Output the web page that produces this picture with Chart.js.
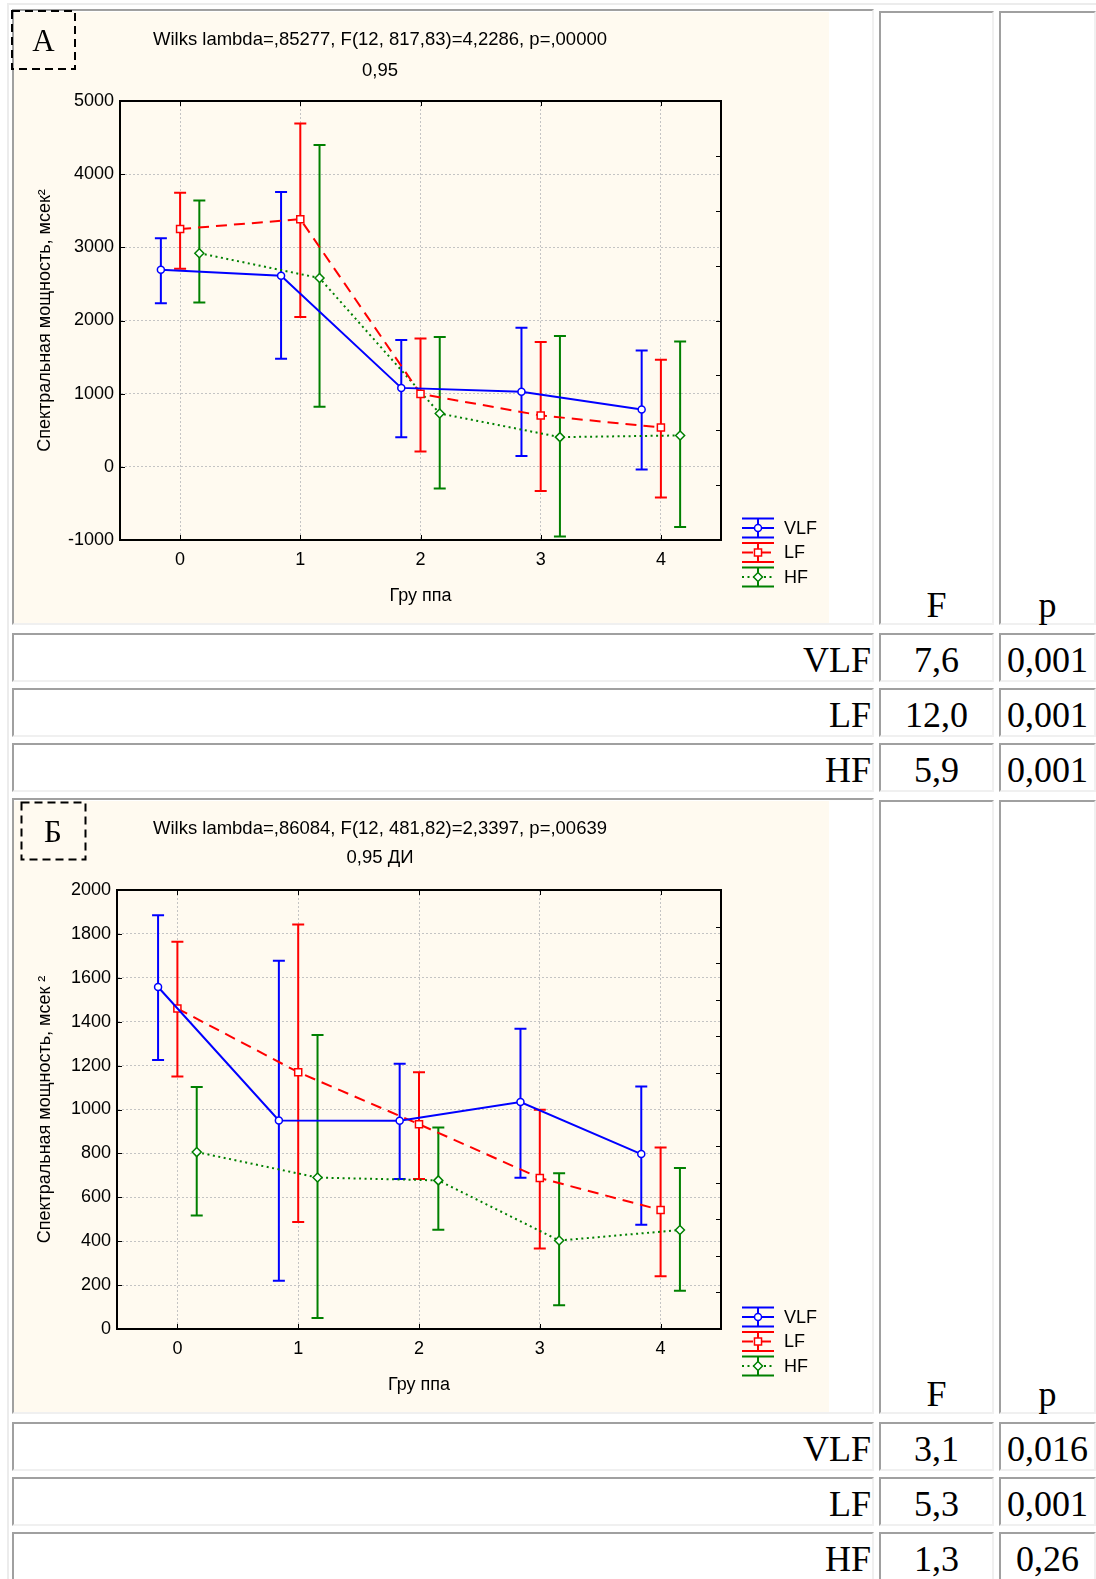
<!DOCTYPE html>
<html>
<head>
<meta charset="utf-8">
<script src="https://cdn.jsdelivr.net/npm/chart.js@4.4.0/dist/chart.umd.min.js"></script>
<style>
  html, body { margin: 0; padding: 0; background: #fff; }
  body { width: 1096px; height: 1579px; position: relative; overflow: hidden; }
  .rule-top { position: absolute; left: 7px; top: 3px; width: 1089px; height: 2px; background: #ececec; }
  .rule-left { position: absolute; left: 7px; top: 3px; width: 2px; height: 1576px; background: #ececec; }
  .cell {
    position: absolute; box-sizing: border-box;
    border-style: solid; border-width: 2px;
    border-color: #a0a0a0 #f0f0f0 #f0f0f0 #a0a0a0;
    font-family: 'Liberation Serif', 'Times New Roman', serif;
    font-size: 36px; line-height: 45px; color: #000; white-space: nowrap;
  }
  .cell.name { text-align: right; padding-right: 1px; padding-top: 2.5px; }
  .cell.num { text-align: center; padding-top: 2.5px; }
  .head { position: absolute; left: 0; right: 0; bottom: -2px; line-height: 40px; text-align: center; }
  .panel { position: absolute; left: 14px; width: 815px; height: 611px; background: #fffaf0; }
  .panel canvas { position: absolute; left: 0; top: 0; }
  .ttl {
    position: absolute; left: 0; width: 760px; text-align: center;
    font-family: 'Liberation Sans', Arial, sans-serif; font-size: 18.5px; line-height: 20px; color: #000;
    white-space: nowrap;
  }
  .tag { position: absolute; }
  .tag text { font-family: 'Liberation Serif', 'Times New Roman', serif; font-size: 31px; }
</style>
</head>
<body>
<div class="rule-top"></div>
<div class="rule-left"></div>

<!-- Block А -->
<div class="cell" style="left:12px;top:9px;width:862px;height:616px"></div>
<div class="cell" style="left:879px;top:11px;width:115px;height:614px"><div class="head">F</div></div>
<div class="cell" style="left:999px;top:11px;width:97px;height:614px"><div class="head">p</div></div>
<div class="panel" style="top:12px"><canvas id="chartA" width="815" height="611"></canvas></div>
<svg class="tag" style="left:10px;top:9px" width="68" height="62">
  <rect x="2" y="2" width="63" height="58" fill="none" stroke="#000" stroke-width="2" stroke-dasharray="8,5"/>
  <text x="33.5" y="42" text-anchor="middle">А</text>
</svg>
<div class="ttl" style="top:29px">Wilks lambda=,85277, F(12, 817,83)=4,2286, p=,00000</div>
<div class="ttl" style="top:59.5px">0,95</div>
<div id="tableA"></div>

<!-- Block Б -->
<div class="cell" style="left:12px;top:798px;width:862px;height:616px"></div>
<div class="cell" style="left:879px;top:800px;width:115px;height:614px"><div class="head">F</div></div>
<div class="cell" style="left:999px;top:800px;width:97px;height:614px"><div class="head">p</div></div>
<div class="panel" style="top:801px"><canvas id="chartB" width="815" height="611"></canvas></div>
<svg class="tag" style="left:20px;top:801px" width="68" height="62">
  <rect x="1.5" y="1.5" width="64" height="57" fill="none" stroke="#000" stroke-width="2" stroke-dasharray="8,5"/>
  <text x="33" y="41" text-anchor="middle">Б</text>
</svg>
<div class="ttl" style="top:818px">Wilks lambda=,86084, F(12, 481,82)=2,3397, p=,00639</div>
<div class="ttl" style="top:846.5px">0,95 ДИ</div>
<div id="tableB"></div>

<script>
// ---- data ----
const groups = [0, 1, 2, 3, 4];
const groupLabels = ['0', '1', '2', '3', '4'];
const seriesNames = ['VLF', 'LF', 'HF'];

// Panel А: means and 0.95 interval limits
const aVLFmean = [2693, 2612, 1079, 1025, 783];
const aVLFlow  = [2236, 1477, 406, 147, -38];
const aVLFhigh = [3123, 3756, 1733, 1900, 1591];
const aLFmean  = [3250, 3385, 997, 702, 538];
const aLFlow   = [2707, 2048, 211, -330, -420];
const aLFhigh  = [3745, 4692, 1755, 1706, 1465];
const aHFmean  = [2920, 2580, 729, 406, 429];
const aHFlow   = [2247, 820, -297, -951, -824];
const aHFhigh  = [3639, 4399, 1774, 1787, 1714];
const aFvalues = ['7,6', '12,0', '5,9'];
const aPvalues = ['0,001', '0,001', '0,001'];

// Panel Б: means and 0.95 confidence limits
const bVLFmean = [1558, 950, 949, 1034, 797];
const bVLFlow  = [1226, 220, 683, 689, 475];
const bVLFhigh = [1885, 1678, 1208, 1368, 1105];
const bLFmean  = [1460, 1170, 933, 688, 542];
const bLFlow   = [1150, 487, 683, 367, 240];
const bLFhigh  = [1764, 1843, 1170, 999, 827];
const bHFmean  = [806, 690, 677, 403, 451];
const bHFlow   = [517, 50, 452, 108, 174];
const bHFhigh  = [1102, 1339, 918, 709, 733];
const bFvalues = ['3,1', '5,3', '1,3'];
const bPvalues = ['0,016', '0,001', '0,26'];

// ---- statistics rows under each chart ----
function buildRows(containerId, top, fVals, pVals) {
  const host = document.getElementById(containerId);
  seriesNames.forEach((name, i) => {
    const y = top + i * 55;
    host.insertAdjacentHTML('beforeend',
      `<div class="cell name" style="left:12px;top:${y}px;width:862px;height:49px">${name}</div>` +
      `<div class="cell num" style="left:879px;top:${y}px;width:115px;height:49px">${fVals[i]}</div>` +
      `<div class="cell num" style="left:999px;top:${y}px;width:97px;height:49px">${pVals[i]}</div>`);
  });
}
buildRows('tableA', 633, aFvalues, aPvalues);
buildRows('tableB', 1422, bFvalues, bPvalues);

// ---- chart drawing ----
Chart.defaults.font.family = "'Liberation Sans', Arial, sans-serif";
Chart.defaults.font.size = 18;
Chart.defaults.color = '#000';

const COLORS = { VLF: '#0000ff', LF: '#ff0000', HF: '#008000' };
const DASHES = { VLF: [], LF: [11, 7], HF: [2, 3.5] };
const MARKERS = { VLF: ['circle', 3.5], LF: ['rect', 5], HF: ['rectRot', 4.5] };
const SHIFT = { VLF: -0.16, LF: 0, HF: 0.16 };

function makeSeries(name, means, lows, highs) {
  return {
    label: name,
    data: groups.map((g, i) => ({ x: g + SHIFT[name], y: means[i] })),
    errLow: lows,
    errHigh: highs,
    borderColor: COLORS[name],
    borderWidth: 2,
    borderDash: DASHES[name],
    pointStyle: MARKERS[name][0],
    pointRadius: MARKERS[name][1],
    pointBorderWidth: 1.5,
    pointBorderColor: COLORS[name],
    pointBackgroundColor: '#ffffff',
    fill: false,
    tension: 0
  };
}

function markerPath(ctx, style, r, x, y) {
  ctx.beginPath();
  if (style === 'circle') {
    ctx.arc(x, y, r, 0, Math.PI * 2);
  } else if (style === 'rect') {
    const s = Math.SQRT1_2 * r;
    ctx.rect(x - s, y - s, 2 * s, 2 * s);
  } else {
    ctx.moveTo(x - r, y); ctx.lineTo(x, y - r); ctx.lineTo(x + r, y); ctx.lineTo(x, y + r);
    ctx.closePath();
  }
}

// plot frame with inward tick marks
const framePlugin = {
  id: 'frame',
  beforeDatasetsDraw(chart, args, opts) {
    const { ctx, chartArea: a, scales: { x, y } } = chart;
    ctx.save();
    ctx.strokeStyle = '#000';
    ctx.lineWidth = 1;
    ctx.beginPath();
    // category ticks on the top and bottom edges
    groups.forEach(g => {
      const px = Math.round(x.getPixelForValue(g)) + 0.5;
      ctx.moveTo(px, a.top); ctx.lineTo(px, a.top + 5);
      ctx.moveTo(px, a.bottom); ctx.lineTo(px, a.bottom - 5);
    });
    // value ticks on the left edge
    y.ticks.forEach(t => {
      const py = Math.round(y.getPixelForValue(t.value)) + 0.5;
      ctx.moveTo(a.left, py); ctx.lineTo(a.left + 5, py);
    });
    // finer ticks on the right edge
    const n = opts.rightDivisions;
    for (let i = 1; i < n; i++) {
      const v = y.min + (y.max - y.min) * i / n;
      const py = Math.round(y.getPixelForValue(v)) + 0.5;
      ctx.moveTo(a.right, py); ctx.lineTo(a.right - 5, py);
    }
    ctx.stroke();
    ctx.lineWidth = 2;
    ctx.strokeRect(a.left, a.top, a.right - a.left, a.bottom - a.top);
    ctx.restore();
  }
};

// whiskers for the confidence limits
const errorBarPlugin = {
  id: 'errorBars',
  beforeDatasetsDraw(chart) {
    const { ctx, scales: { x, y } } = chart;
    chart.data.datasets.forEach(ds => {
      ctx.save();
      ctx.strokeStyle = ds.borderColor;
      ctx.lineWidth = 2;
      ctx.setLineDash([]);
      ctx.beginPath();
      ds.data.forEach((p, i) => {
        const px = x.getPixelForValue(p.x);
        const yl = y.getPixelForValue(ds.errLow[i]);
        const yh = y.getPixelForValue(ds.errHigh[i]);
        ctx.moveTo(px, yl); ctx.lineTo(px, yh);
        ctx.moveTo(px - 6, yl); ctx.lineTo(px + 6, yl);
        ctx.moveTo(px - 6, yh); ctx.lineTo(px + 6, yh);
      });
      ctx.stroke();
      ctx.restore();
    });
  }
};

// legend with whisker-style keys
const legendPlugin = {
  id: 'whiskerLegend',
  afterDraw(chart) {
    const { ctx, chartArea: a } = chart;
    chart.data.datasets.forEach((ds, i) => {
      const cy = a.bottom - 12 + i * 24.5;
      const x0 = a.right + 21, x1 = a.right + 53, cx = (x0 + x1) / 2;
      ctx.save();
      ctx.strokeStyle = ds.borderColor;
      ctx.lineWidth = 2;
      ctx.beginPath();
      ctx.moveTo(x0, cy - 9.5); ctx.lineTo(x1, cy - 9.5);
      ctx.moveTo(x0, cy + 9.5); ctx.lineTo(x1, cy + 9.5);
      ctx.moveTo(cx, cy - 9.5); ctx.lineTo(cx, cy + 9.5);
      ctx.stroke();
      ctx.setLineDash(ds.borderDash);
      ctx.beginPath();
      ctx.moveTo(x0, cy); ctx.lineTo(x1, cy);
      ctx.stroke();
      ctx.setLineDash([]);
      ctx.lineWidth = ds.pointBorderWidth;
      ctx.fillStyle = '#fff';
      markerPath(ctx, ds.pointStyle, ds.pointRadius, cx, cy);
      ctx.fill(); ctx.stroke();
      ctx.fillStyle = '#000';
      ctx.font = "18px 'Liberation Sans', Arial, sans-serif";
      ctx.textBaseline = 'middle';
      ctx.textAlign = 'left';
      ctx.fillText(ds.label, a.right + 63, cy + 1);
      ctx.restore();
    });
  }
};

function drawPanel(canvasId, series, yMin, yMax, yStep, yAxisWidth, yTitle, rightDivisions) {
  return new Chart(document.getElementById(canvasId), {
    type: 'line',
    data: { datasets: series },
    options: {
      responsive: false,
      animation: false,
      events: [],
      layout: { padding: { top: 89, right: 108, bottom: 0, left: 0 } },
      plugins: {
        legend: { display: false },
        tooltip: { enabled: false },
        frame: { rightDivisions }
      },
      scales: {
        x: {
          type: 'linear', min: -0.5, max: 4.5,
          afterBuildTicks: s => { s.ticks = groups.map(v => ({ value: v })); },
          afterFit: s => { s.height = 83; },
          ticks: { padding: 9, callback: v => groupLabels[groups.indexOf(v)] },
          grid: { color: '#c4c4c4', lineWidth: 1, drawTicks: false },
          border: { display: true, color: '#000', width: 2, dash: [2, 2] },
          title: { display: true, text: 'Гру ппа', padding: { top: 0, bottom: 16 } }
        },
        y: {
          type: 'linear', min: yMin, max: yMax,
          afterFit: s => { s.width = yAxisWidth; },
          ticks: { stepSize: yStep, padding: 6, callback: v => String(v) },
          grid: { color: '#c4c4c4', lineWidth: 1, drawTicks: false },
          border: { display: true, color: '#000', width: 2, dash: [2, 2] },
          title: { display: true, text: yTitle, padding: { top: 20, bottom: 0 } }
        }
      }
    },
    plugins: [framePlugin, errorBarPlugin, legendPlugin]
  });
}

drawPanel('chartA', [
  makeSeries('VLF', aVLFmean, aVLFlow, aVLFhigh),
  makeSeries('LF', aLFmean, aLFlow, aLFhigh),
  makeSeries('HF', aHFmean, aHFlow, aHFhigh)
], -1000, 5000, 1000, 106, 'Спектральная мощность, мсек²', 8);

drawPanel('chartB', [
  makeSeries('VLF', bVLFmean, bVLFlow, bVLFhigh),
  makeSeries('LF', bLFmean, bLFlow, bLFhigh),
  makeSeries('HF', bHFmean, bHFlow, bHFhigh)
], 0, 2000, 200, 103, 'Спектральная мощность, мсек ²', 12);
</script>
</body>
</html>
